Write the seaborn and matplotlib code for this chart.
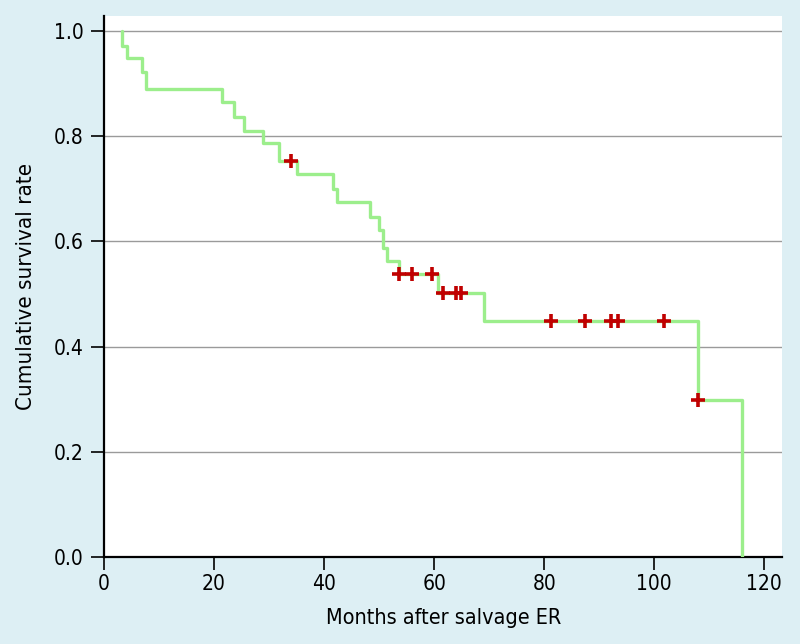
import matplotlib
matplotlib.use("Agg")
import matplotlib.pyplot as plt
import numpy as np
import pandas as pd
import seaborn as sns

# step points of the survival curve (month, survival after the drop)
months = [3.2, 3.2, 4.1, 6.9, 7.7, 21.5, 23.7, 25.5, 28.9, 31.8, 35.1, 41.6, 42.4,
          48.4, 49.9, 50.7, 51.4, 53.6, 60.7, 69.0, 107.9, 116.0]
survival = [1.0, 0.972, 0.949, 0.921, 0.889, 0.865, 0.837, 0.809, 0.787, 0.753,
            0.728, 0.699, 0.674, 0.647, 0.622, 0.588, 0.563, 0.538, 0.501, 0.449,
            0.299, 0.0]

# censored observations
censor_months = [33.9, 53.6, 55.9, 59.7, 61.7, 63.9, 64.8, 81.2, 87.4, 92.1,
                 93.4, 101.8, 107.9]
censor_surv = [0.753, 0.538, 0.538, 0.538, 0.501, 0.501, 0.501, 0.449, 0.449,
               0.449, 0.449, 0.449, 0.299]

x_ticks = [0, 20, 40, 60, 80, 100, 120]
y_ticks = [0.0, 0.2, 0.4, 0.6, 0.8, 1.0]

curve = pd.DataFrame({"month": months, "survival": survival})
censored = pd.DataFrame({"month": censor_months, "survival": censor_surv})

sns.set_theme(style="white")
plt.rcParams["font.family"] = ["DejaVu Sans"]
plt.rcParams["font.stretch"] = "condensed"
plt.rcParams["text.color"] = "black"
plt.rcParams["axes.labelcolor"] = "black"
plt.rcParams["xtick.color"] = "black"
plt.rcParams["ytick.color"] = "black"

bg = "#ddeff4"
fig = plt.figure(figsize=(8, 6.44), dpi=100, facecolor=bg)
ax = fig.add_axes([0.13, 0.135, 0.848, 0.84])
ax.set_facecolor("white")

sns.lineplot(data=curve, x="month", y="survival", drawstyle="steps-post",
             estimator=None, sort=False, color="#9cee8c", linewidth=2.4,
             ax=ax, zorder=3)
sns.scatterplot(data=censored, x="month", y="survival", marker="+",
                color="#c00000", s=90, linewidth=2.6, ax=ax, zorder=4)

ax.set_xlim(0, 123.3)
ax.set_ylim(0, 1.028)
ax.set_xticks(x_ticks)
ax.set_yticks(y_ticks)
ax.set_yticklabels([f"{v:.1f}" for v in y_ticks])
ax.yaxis.grid(True, color="#9a9a9a", linewidth=1.0)
ax.set_axisbelow(True)

for side in ["top", "right"]:
    ax.spines[side].set_visible(False)
for side in ["left", "bottom"]:
    ax.spines[side].set_color("black")
    ax.spines[side].set_linewidth(1.6)

ax.tick_params(axis="y", which="major", direction="out", length=9.5, width=1.2,
               color="black", labelcolor="black", labelsize=15, pad=5, left=True)
ax.tick_params(axis="x", which="major", direction="out", length=9, width=1.2,
               color="black", labelcolor="black", labelsize=15, pad=3, bottom=True)

ax.set_xlabel("Months after salvage ER", fontsize=15.5, labelpad=10)
ax.set_ylabel("Cumulative survival rate", fontsize=16, labelpad=13)

fig.savefig("out.png", dpi=100, facecolor=bg)
